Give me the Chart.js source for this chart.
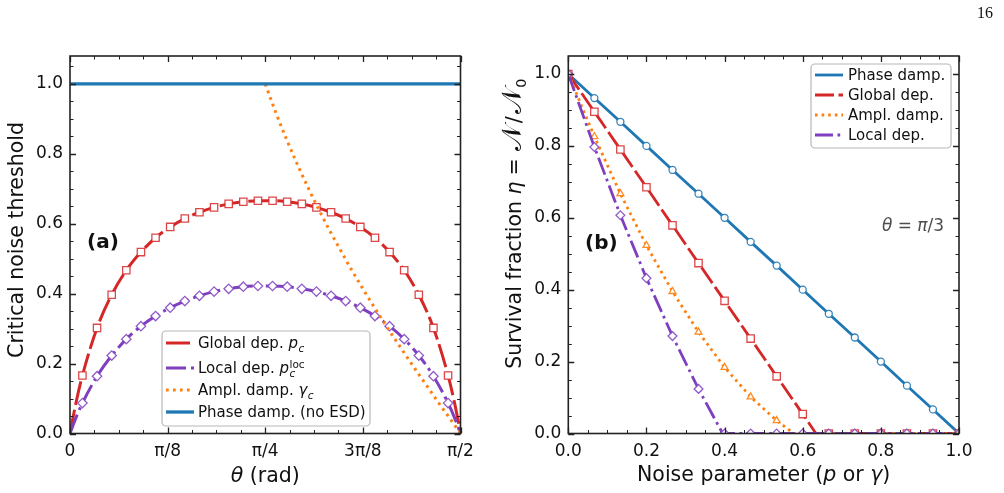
<!DOCTYPE html>
<html lang="en">
<head>
<meta charset="utf-8">
<title>Critical noise threshold and survival fraction</title>
<script src="https://cdn.jsdelivr.net/npm/chart.js@4.4.1/dist/chart.umd.min.js"></script>
<style>
  html, body { margin: 0; padding: 0; background: #ffffff; }
  #page { position: relative; width: 1004px; height: 493px; overflow: hidden; }
  .layer { position: absolute; left: 0; top: 0; width: 1004px; height: 493px; }
  #pageNum { position: absolute; left: 977px; top: 4px; font: 16px "Liberation Serif", "DejaVu Serif", serif; color: #111; }
</style>
</head>
<body>
<div id="page">
  <div class="layer"><canvas id="chartA"></canvas></div>
  <div class="layer"><canvas id="chartB"></canvas></div>
  <div id="pageNum">16</div>
</div>
<script>
// ---------- panel (a): critical noise threshold vs theta ----------
const thetaTicks = [0, Math.PI / 8, Math.PI / 4, 3 * Math.PI / 8, Math.PI / 2];
const thetaTickLabels = ["0", "π/8", "π/4", "3π/8", "π/2"];
const thresholdTicks = [0, 0.2, 0.4, 0.6, 0.8, 1.0];

// theta of the markers (rad)
const thetaMarks = [0.0500, 0.1088, 0.1677, 0.2265, 0.2853, 0.3442, 0.4030, 0.4618, 0.5207,
  0.5795, 0.6383, 0.6972, 0.7560, 0.8148, 0.8736, 0.9325, 0.9913, 1.0501, 1.1090,
  1.1678, 1.2266, 1.2855, 1.3443, 1.4031, 1.4620, 1.5208];
const globalMarks = [0.166, 0.302, 0.397, 0.467, 0.519, 0.560, 0.591, 0.615, 0.633,
  0.647, 0.657, 0.663, 0.666, 0.666, 0.663, 0.657, 0.647, 0.633, 0.615,
  0.591, 0.560, 0.519, 0.467, 0.397, 0.302, 0.166];
const localMarks = [0.087, 0.164, 0.223, 0.270, 0.307, 0.336, 0.360, 0.379, 0.394,
  0.406, 0.414, 0.420, 0.422, 0.422, 0.420, 0.414, 0.406, 0.394, 0.379,
  0.360, 0.336, 0.307, 0.270, 0.223, 0.164, 0.087];

// curve points outside the marker range
const thetaStart = [0, 0.010, 0.025];
const globalStart = [0, 0.038, 0.091];
const localStart = [0, 0.019, 0.047];
const thetaEnd = [1.5458, 1.5608, 1.5708];
const globalEnd = [0.091, 0.038, 0];
const localEnd = [0.047, 0.019, 0];

// amplitude damping threshold, only below 1 for theta >= pi/4
const amplTheta = [0.7854, 0.8290, 0.8727, 0.9163, 0.9599, 1.0036, 1.0472, 1.0908, 1.1345, 1.1781,
  1.2217, 1.2654, 1.3090, 1.3526, 1.3963, 1.4399, 1.4835, 1.5272, 1.5708];
const amplGamma = [1.000, 0.916, 0.839, 0.767, 0.700, 0.637, 0.577, 0.521, 0.466, 0.414,
  0.364, 0.315, 0.268, 0.222, 0.176, 0.132, 0.087, 0.044, 0.000];

// phase damping never gives ESD
const phaseTheta = [0, 1.5708];
const phaseThreshold = [1, 1];

// ---------- panel (b): survival fraction vs noise, theta = pi/3 ----------
const noiseTicks = [0, 0.2, 0.4, 0.6, 0.8, 1.0];
const noiseP = [0, 0.0667, 0.1333, 0.2, 0.2667, 0.3333, 0.4, 0.4667, 0.5333, 0.6,
  0.6667, 0.7333, 0.8, 0.8667, 0.9333, 1.0];
const phaseEta = [1.0, 0.933, 0.867, 0.800, 0.733, 0.667, 0.600, 0.533, 0.467, 0.400,
  0.333, 0.267, 0.200, 0.133, 0.067, 0];
const globalEta = [1.0, 0.895, 0.790, 0.685, 0.579, 0.474, 0.369, 0.264, 0.159, 0.054,
  0, 0, 0, 0, 0, 0];
const amplEta = [1.0, 0.826, 0.667, 0.523, 0.395, 0.282, 0.184, 0.102, 0.036, 0,
  0, 0, 0, 0, 0, 0];
const localEta = [1.0, 0.797, 0.607, 0.432, 0.271, 0.124, 0, 0, 0, 0,
  0, 0, 0, 0, 0, 0];
// noise level where each curve reaches zero
const phaseDeath = 1.0;
const globalDeath = 0.634;
const amplDeath = 0.577;
const localDeath = 0.395;

// ---------- style ----------
const BLUE = "#1f77b4";
const RED = "#d62728";
const ORANGE = "#ff7f0e";
const PURPLE = "#7f3fbf";
const FAMILY = "'DejaVu Sans'";
const INK = "#111";

function pts(xs, ys) {
  return xs.map((x, i) => ({ x: x, y: ys[i] }));
}

// line that drops to zero at `death` and stays there
function cutLine(xs, ys, death) {
  const out = [];
  xs.forEach((x, i) => { if (x < death) out.push({ x: x, y: ys[i] }); });
  out.push({ x: death, y: 0 });
  xs.forEach((x) => { if (x > death) out.push({ x: x, y: 0 }); });
  return out;
}

function lineSet(data, color, width, dash, order, smooth) {
  return {
    data: data, borderColor: color, borderWidth: width, borderDash: dash,
    borderCapStyle: "butt", pointRadius: 0, fill: false, tension: 0,
    cubicInterpolationMode: smooth ? "monotone" : "default", clip: 0, order: order
  };
}

function markerSet(data, color, style, radius, order) {
  return {
    data: data, showLine: false, pointStyle: style, pointRadius: radius,
    pointBackgroundColor: "#ffffff", pointBorderColor: color, pointBorderWidth: 1.3,
    clip: 0, order: order
  };
}

// ---------- rich text (italic, sub/superscripts) ----------
function setFont(ctx, style, size) {
  ctx.font = style + " " + size + "px " + FAMILY;
}

function pieceWidth(ctx, piece, size) {
  const t = piece[0], s = piece[1];
  if (s === "n") { setFont(ctx, "normal", size); return ctx.measureText(t).width; }
  if (s === "i") { setFont(ctx, "italic", size); return ctx.measureText(t).width; }
  if (s === "b") { setFont(ctx, "bold", size); return ctx.measureText(t).width; }
  if (s === "cal") { setFont(ctx, "normal", size * 1.3); return ctx.measureText(t).width; }
  if (s === "gap") { return Number(t); }
  if (s === "sub") { setFont(ctx, "italic", size * 0.7); return ctx.measureText(t).width + 1; }
  if (s === "subn") { setFont(ctx, "normal", size * 0.7); return ctx.measureText(t).width + 1; }
  if (s === "supsub") {
    const ab = t.split("|");
    setFont(ctx, "normal", size * 0.7);
    const w1 = ctx.measureText(ab[0]).width;
    setFont(ctx, "italic", size * 0.7);
    const w2 = ctx.measureText(ab[1]).width;
    return Math.max(w1, w2) + 1;
  }
  return 0;
}

function drawRich(ctx, parts, x, y, size, align, color) {
  let w = 0;
  parts.forEach((p) => { w += pieceWidth(ctx, p, size); });
  let cx = align === "center" ? x - w / 2 : x;
  ctx.save();
  ctx.fillStyle = color || INK;
  ctx.textAlign = "left";
  ctx.textBaseline = "alphabetic";
  parts.forEach((p) => {
    const t = p[0], s = p[1];
    const pw = pieceWidth(ctx, p, size);
    if (s === "gap") {
      // spacing only
    } else if (s === "sub" || s === "subn") {
      ctx.fillText(t, cx + 0.5, y + size * 0.22);
    } else if (s === "supsub") {
      const ab = t.split("|");
      setFont(ctx, "normal", size * 0.7);
      ctx.fillText(ab[0], cx + 0.5, y - size * 0.38);
      setFont(ctx, "italic", size * 0.7);
      ctx.fillText(ab[1], cx + 0.5, y + size * 0.24);
    } else {
      ctx.fillText(t, cx, y);
    }
    cx += pw;
  });
  ctx.restore();
}

function drawLegend(ctx, lg) {
  const b = lg.box;
  ctx.save();
  ctx.beginPath();
  ctx.roundRect(b[0], b[1], b[2], b[3], 4);
  ctx.fillStyle = "rgba(255,255,255,0.85)";
  ctx.fill();
  ctx.strokeStyle = "#b8b8b8";
  ctx.lineWidth = 1.2;
  ctx.stroke();
  lg.rows.forEach((r) => {
    ctx.beginPath();
    ctx.setLineDash(r.dash);
    ctx.strokeStyle = r.color;
    ctx.lineWidth = r.width;
    ctx.lineCap = "butt";
    ctx.moveTo(lg.handle[0], r.y);
    ctx.lineTo(lg.handle[1], r.y);
    ctx.stroke();
    ctx.setLineDash([]);
    drawRich(ctx, r.parts, lg.textX, r.y + lg.size * 0.36, lg.size, "left");
  });
  ctx.restore();
}

// frame + inward ticks on all four sides, then panel extras
function decor(cfg) {
  return {
    id: "decor",
    afterDatasetsDraw(chart) {
      const ctx = chart.ctx;
      const a = chart.chartArea;
      const xs = chart.scales.x, ys = chart.scales.y;
      ctx.save();
      ctx.strokeStyle = "#222";
      const tick = (list, len, width, vertical) => {
        ctx.lineWidth = width;
        ctx.beginPath();
        list.forEach((v) => {
          if (vertical) {
            const px = Math.round(xs.getPixelForValue(v)) + 0.5;
            ctx.moveTo(px, a.bottom); ctx.lineTo(px, a.bottom - len);
            ctx.moveTo(px, a.top); ctx.lineTo(px, a.top + len);
          } else {
            const py = Math.round(ys.getPixelForValue(v)) + 0.5;
            ctx.moveTo(a.left, py); ctx.lineTo(a.left + len, py);
            ctx.moveTo(a.right, py); ctx.lineTo(a.right - len, py);
          }
        });
        ctx.stroke();
      };
      tick(cfg.xMinor, 3.5, 1, true);
      tick(cfg.yMinor, 3.5, 1, false);
      tick(cfg.xMajor, 6, 1.3, true);
      tick(cfg.yMajor, 6, 1.3, false);
      ctx.lineWidth = 1.6;
      ctx.strokeRect(a.left, a.top, a.right - a.left, a.bottom - a.top);
      ctx.restore();
      cfg.extra(ctx, a);
    }
  };
}

function minorList(step, max, majorStep) {
  const out = [];
  for (let i = 1; i * step < max - 1e-6; i++) {
    if (i % majorStep !== 0) out.push(i * step);
  }
  return out;
}

function axisX(min, max, ticks, labels, height) {
  return {
    type: "linear", min: min, max: max,
    afterBuildTicks: (s) => { s.ticks = ticks.map((v) => ({ value: v })); },
    afterFit: (s) => { s.height = height; },
    grid: { display: false, drawTicks: false }, border: { display: false },
    ticks: {
      padding: 8, color: INK, autoSkip: false, maxRotation: 0,
      font: { family: "DejaVu Sans", size: 17 },
      callback: (v, i) => labels[i]
    }
  };
}

function axisY(min, max, ticks, width) {
  return {
    type: "linear", min: min, max: max,
    afterBuildTicks: (s) => { s.ticks = ticks.map((v) => ({ value: v })); },
    afterFit: (s) => { s.width = width; },
    grid: { display: false, drawTicks: false }, border: { display: false },
    ticks: {
      padding: 7, color: INK, autoSkip: false,
      font: { family: "DejaVu Sans", size: 17 },
      callback: (v) => v.toFixed(1)
    }
  };
}

// ---------- panel (a) ----------
const globalCurve = pts(thetaStart.concat(thetaMarks, thetaEnd), globalStart.concat(globalMarks, globalEnd));
const localCurve = pts(thetaStart.concat(thetaMarks, thetaEnd), localStart.concat(localMarks, localEnd));

const legendA = {
  box: [162, 331, 208, 95], handle: [166, 194], textX: 198, size: 15,
  rows: [
    { y: 343, color: RED, dash: [24, 5], width: 3, parts: [["Global dep. ", "n"], ["p", "i"], ["c", "sub"]] },
    { y: 368, color: PURPLE, dash: [20, 5, 3, 5], width: 3, parts: [["Local dep. ", "n"], ["p", "i"], ["loc|c", "supsub"]] },
    { y: 390, color: ORANGE, dash: [2.7, 4.3], width: 3, parts: [["Ampl. damp. ", "n"], ["γ", "i"], ["c", "sub"]] },
    { y: 412, color: BLUE, dash: [], width: 3.3, parts: [["Phase damp. (no ESD)", "n"]] }
  ]
};

new Chart(document.getElementById("chartA"), {
  type: "line",
  data: {
    datasets: [
      lineSet(globalCurve, RED, 3, [24, 5], 10, true),
      markerSet(pts(thetaMarks, globalMarks), "rgba(214,39,40,0.85)", "rect", 5.2, 9),
      lineSet(localCurve, PURPLE, 3, [20, 5, 3, 5], 8, true),
      markerSet(pts(thetaMarks, localMarks), "rgba(127,63,191,0.85)", "rectRot", 4.7, 7),
      lineSet(pts(amplTheta, amplGamma), ORANGE, 3, [2.7, 4.3], 6, true),
      lineSet(pts(phaseTheta, phaseThreshold), BLUE, 3.3, [], 5, false)
    ]
  },
  options: {
    animation: false, responsive: true, maintainAspectRatio: false, events: [],
    layout: { padding: { top: 56, right: 1004 - 460.5, bottom: 0, left: 0 } },
    plugins: { legend: { display: false }, tooltip: { enabled: false } },
    scales: {
      x: axisX(0, Math.PI / 2, thetaTicks, thetaTickLabels, 59.5),
      y: axisY(0, 1.08, thresholdTicks, 70)
    }
  },
  plugins: [decor({
    xMajor: thetaTicks, xMinor: minorList(Math.PI / 32, Math.PI / 2, 4),
    yMajor: thresholdTicks, yMinor: minorList(0.05, 1.08, 4),
    extra: (ctx, a) => {
      drawRich(ctx, [["θ", "i"], [" (rad)", "n"]], (a.left + a.right) / 2, 482, 20.5, "center");
      ctx.save();
      ctx.translate(23, 240);
      ctx.rotate(-Math.PI / 2);
      drawRich(ctx, [["Critical noise threshold", "n"]], 0, 0, 20.5, "center");
      ctx.restore();
      drawRich(ctx, [["(a)", "b"]], 87, 248, 20, "left");
      drawLegend(ctx, legendA);
    }
  })]
});

// ---------- panel (b) ----------
const legendB = {
  box: [811, 64, 140, 84], handle: [815, 843], textX: 848, size: 15,
  rows: [
    { y: 75, color: BLUE, dash: [], width: 2.8, parts: [["Phase damp.", "n"]] },
    { y: 95, color: RED, dash: [19, 4.5], width: 2.8, parts: [["Global dep.", "n"]] },
    { y: 115, color: ORANGE, dash: [2.6, 4], width: 2.8, parts: [["Ampl. damp.", "n"]] },
    { y: 135, color: PURPLE, dash: [18, 4.5, 2.7, 4.5], width: 2.8, parts: [["Local dep.", "n"]] }
  ]
};

new Chart(document.getElementById("chartB"), {
  type: "line",
  data: {
    datasets: [
      lineSet(cutLine(noiseP, phaseEta, phaseDeath), BLUE, 2.8, [], 20, false),
      markerSet(pts(noiseP, phaseEta), "rgba(31,119,180,0.9)", "circle", 3.5, 19),
      lineSet(cutLine(noiseP, globalEta, globalDeath), RED, 2.8, [19, 4.5], 18, false),
      markerSet(pts(noiseP, globalEta), "rgba(214,39,40,0.85)", "rect", 5.2, 17),
      lineSet(cutLine(noiseP, amplEta, amplDeath), ORANGE, 2.8, [2.6, 4], 16, false),
      markerSet(pts(noiseP, amplEta), "rgba(255,127,14,0.9)", "triangle", 4, 15),
      lineSet(cutLine(noiseP, localEta, localDeath), PURPLE, 2.8, [18, 4.5, 2.7, 4.5], 14, false),
      markerSet(pts(noiseP, localEta), "rgba(127,63,191,0.85)", "rectRot", 4.4, 13)
    ]
  },
  options: {
    animation: false, responsive: true, maintainAspectRatio: false, events: [],
    layout: { padding: { top: 56, right: 45, bottom: 0, left: 0 } },
    plugins: { legend: { display: false }, tooltip: { enabled: false } },
    scales: {
      x: axisX(0, 1, noiseTicks, noiseTicks.map((v) => v.toFixed(1)), 59.5),
      y: axisY(0, 1.05, noiseTicks, 568.3)
    }
  },
  plugins: [decor({
    xMajor: noiseTicks, xMinor: minorList(0.05, 1, 4),
    yMajor: noiseTicks, yMinor: minorList(0.05, 1.05, 4),
    extra: (ctx, a) => {
      drawRich(ctx, [["Noise parameter (", "n"], ["p", "i"], [" or ", "n"], ["γ", "i"], [")", "n"]],
        (a.left + a.right) / 2, 481, 20.5, "center");
      ctx.save();
      ctx.translate(521, 223.5);
      ctx.rotate(-Math.PI / 2);
      drawRich(ctx, [["Survival fraction ", "n"], ["η", "i"], ["6", "gap"], ["=", "n"], ["7", "gap"],
        ["𝒩", "cal"], ["2", "gap"], ["/", "n"], ["2", "gap"], ["𝒩", "cal"], ["0", "subn"]],
        0, 0, 20.5, "center");
      ctx.restore();
      drawRich(ctx, [["(b)", "b"]], 585, 249, 20, "left");
      drawRich(ctx, [["θ", "i"], [" = ", "n"], ["π", "i"], ["/3", "n"]], 913, 231, 17, "center", "#4d4d4d");
      drawLegend(ctx, legendB);
    }
  })]
});
</script>
</body>
</html>
